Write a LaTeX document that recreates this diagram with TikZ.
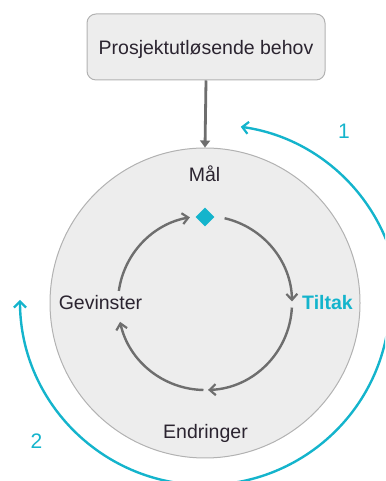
\documentclass[tikz,border=0pt]{standalone}
\usepackage{fontspec}
\setmainfont{Liberation Sans}
\usetikzlibrary{arrows.meta,calc,shapes.geometric}

\definecolor{ink}{HTML}{2B2430}
\definecolor{tealc}{HTML}{14B4CC}
\definecolor{loopgray}{HTML}{6E6E6E}
\definecolor{panel}{HTML}{EDEDED}
\definecolor{rim}{HTML}{B2B2B2}

\tikzset{
  x=1pt, y=1pt,
  lbl/.style={font=\fontsize{19.5}{22}\selectfont, text=ink, anchor=base, inner sep=0pt},
  needbox/.style={draw=rim, fill=panel, line width=1pt, rounded corners=9pt,
    minimum width=238pt, minimum height=66pt, font=\fontsize{19.5}{22}\selectfont,
    text=ink, text height=17pt, text depth=1pt},
  bigdisc/.style={circle, draw=rim, fill=panel, line width=1pt, minimum size=310pt, inner sep=0pt},
  looparc/.style={draw=loopgray, line width=2.4pt,
    -{Straight Barb[length=6pt,width=11pt,line width=2.2pt]}},
  outerarc/.style={draw=tealc, line width=2.4pt,
    -{Straight Barb[length=6pt,width=12pt,line width=2.2pt]}},
  feed/.style={draw=loopgray, line width=2.8pt, -{Triangle[length=7pt,width=10pt]}},
  goalmark/.style={diamond, fill=tealc, minimum size=19pt, inner sep=0pt},
  stepnum/.style={font=\fontsize{21}{24}\selectfont, text=tealc, anchor=base, inner sep=0pt}
}

\begin{document}
\begin{tikzpicture}
  \useasboundingbox (0,0) rectangle (385,481);
  \clip (0,0) rectangle (385,481);

  % project trigger box and the surrounding disc
  \node[needbox] (need) at (206,434) {Prosjektutløsende behov};
  \node[bigdisc] (disc) at (205,178) {};
  \draw[feed] (need.south) -- (disc.north);

  % centre of the inner cycle and of the outer teal arcs
  \coordinate (c) at (205,178);
  \coordinate (c1) at (215,171);
  \coordinate (c2) at (205,181);

  % goal marker and cycle labels
  \node[goalmark] (goal) at (205,264) {};
  \node[lbl] (maal) at (204.5,299) {Mål};
  \node[lbl] (gev) at (100.5,171) {Gevinster};
  \node[lbl, text=tealc, font=\fontsize{19.5}{22}\selectfont\bfseries] (tiltak) at (327.5,171) {Tiltak};
  \node[lbl] (endr) at (205.5,42) {Endringer};

  % inner cycle: goal -> measures -> changes -> benefits -> goal
  \draw[looparc] ($(c)+(77:87)$) arc[start angle=77, end angle=1, radius=87];
  \draw[looparc] ($(c)+(-3:87)$) arc[start angle=-3, end angle=-88, radius=87];
  \draw[looparc] ($(c)+(-91:87)$) arc[start angle=-91, end angle=-167.5, radius=87];
  \draw[looparc] ($(c)+(172:87)$) arc[start angle=172, end angle=100, radius=87];

  % outer teal arcs with their step numbers
  \draw[outerarc] ($(c1)+(10:185)$) arc[start angle=10, end angle=82, radius=185];
  \draw[outerarc] ($(c2)+(-8:185)$) arc[start angle=352, end angle=180, radius=185];
  \node[stepnum] (one) at (344,342) {1};
  \node[stepnum] (two) at (36.5,32) {2};
\end{tikzpicture}
\end{document}
